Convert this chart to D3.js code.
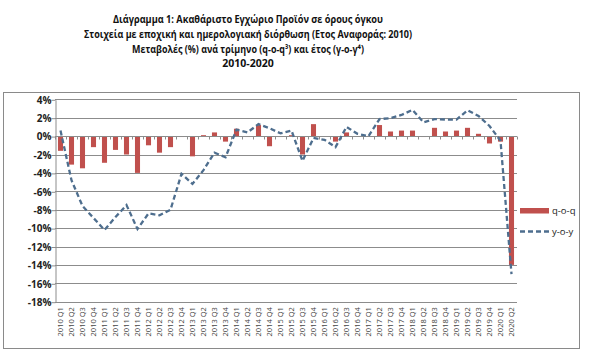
<!DOCTYPE html>
<html><head><meta charset="utf-8">
<script src="https://cdn.jsdelivr.net/npm/d3@7"></script>
<style>body{margin:0;background:#fff}svg{display:block}</style>
</head><body>
<svg id="c" width="595" height="358"></svg>
<script>
const categories = ["2010 Q1","2010 Q2","2010 Q3","2010 Q4","2011 Q1","2011 Q2","2011 Q3","2011 Q4","2012 Q1","2012 Q2","2012 Q3","2012 Q4","2013 Q1","2013 Q2","2013 Q3","2013 Q4","2014 Q1","2014 Q2","2014 Q3","2014 Q4","2015 Q1","2015 Q2","2015 Q3","2015 Q4","2016 Q1","2016 Q2","2016 Q3","2016 Q4","2017 Q1","2017 Q2","2017 Q3","2017 Q4","2018 Q1","2018 Q2","2018 Q3","2018 Q4","2019 Q1","2019 Q2","2019 Q3","2019 Q4","2020 Q1","2020 Q2"];
const qoq = [-1.6,-3.1,-3.5,-1.2,-2.9,-1.5,-2.0,-4.0,-1.0,-1.8,-1.2,-0.1,-2.2,0.1,0.4,-0.6,0.8,-0.1,1.2,-1.1,-0.1,0.1,-2.0,1.3,0.0,-0.6,0.4,0.0,0.0,1.2,0.5,0.6,0.6,-0.1,0.9,0.5,0.6,0.9,0.25,-0.8,-0.6,-14.0];
const yoy = [0.6,-4.8,-7.6,-8.9,-10.2,-8.8,-7.5,-10.1,-8.4,-8.6,-8.0,-4.1,-5.2,-3.7,-1.8,-2.3,0.7,0.4,1.3,0.85,0.3,0.6,-2.7,-0.2,-0.4,-1.2,1.0,0.25,0.0,1.85,1.95,2.3,2.85,1.5,1.85,1.8,1.8,2.8,2.2,1.1,-0.5,-15.0];
const yTicks = [4,2,0,-2,-4,-6,-8,-10,-12,-14,-16,-18];
const titleLines = ["Διάγραμμα 1: Ακαθάριστο Εγχώριο Προϊόν σε όρους όγκου","Στοιχεία με εποχική και ημερολογιακή διόρθωση (Ετος Αναφοράς: 2010)","Μεταβολές (%) ανά τρίμηνο (q-o-q³) και έτος (γ-o-γ⁴)","2010-2020"];
const seriesNames = ["q-o-q","y-o-y"];

const svg = d3.select("#c");
const font = "'Open Sans', 'Noto Sans', sans-serif";
const L = 55, R = 517, T = 99.3, B = 301.7;
const x = d3.scaleBand().domain(categories).range([L, R]);
const y = d3.scaleLinear().domain([-18, 4]).range([B, T]);

// outer frame
svg.append("rect").attr("x", 3.5).attr("y", 92.5).attr("width", 576).attr("height", 256)
  .attr("fill", "none").attr("stroke", "#8a8a8a").attr("stroke-width", 1);

// title
const tY = [18.5, 33.5, 48.5, 63];
const tW = [270, 328, 232, null];
svg.append("g").selectAll("text").data(titleLines).join("text")
  .attr("x", 248).attr("y", (d, i) => tY[i] + 4)
  .attr("text-anchor", "middle").attr("font-family", font).attr("font-weight", "bold")
  .attr("font-size", 10.5).attr("fill", "#111")
  .attr("textLength", (d, i) => tW[i]).attr("lengthAdjust", "spacingAndGlyphs")
  .text(d => d);

// gridlines
svg.append("g").selectAll("line").data(yTicks).join("line")
  .attr("x1", L).attr("x2", R).attr("y1", d => Math.round(y(d)) + 0.5).attr("y2", d => Math.round(y(d)) + 0.5)
  .attr("stroke", "#8c8c8c").attr("stroke-width", 1);

// y axis
const yAxis = d3.axisLeft(y).tickValues(yTicks).tickFormat(d => d + "%").tickSize(4).tickSizeOuter(0);
const gy = svg.append("g").attr("transform", `translate(${L + 0.5},0.5)`).call(yAxis);
gy.select(".domain").attr("stroke", "#8c8c8c");
gy.selectAll(".tick line").attr("stroke", "#8c8c8c");
gy.selectAll(".tick text").attr("font-family", font).attr("font-size", 10).attr("font-weight", "bold")
  .attr("fill", "#222").attr("x", -4);

// bars
const bw = x.bandwidth() * 0.46;
svg.append("g").selectAll("rect").data(qoq).join("rect")
  .attr("x", (d, i) => x(categories[i]) + (x.bandwidth() - bw) / 2)
  .attr("y", d => y(Math.max(0, d)))
  .attr("width", bw)
  .attr("height", d => Math.abs(y(d) - y(0)))
  .attr("fill", "#c0504d");

// zero axis with ticks
const z = Math.round(y(0)) + 0.5;
svg.append("line").attr("x1", L).attr("x2", R).attr("y1", z).attr("y2", z).attr("stroke", "#8c8c8c");
svg.append("g").selectAll("line").data(categories.concat(["end"])).join("line")
  .attr("x1", (d, i) => Math.round(L + i * x.bandwidth()) + 0.5)
  .attr("x2", (d, i) => Math.round(L + i * x.bandwidth()) + 0.5)
  .attr("y1", z).attr("y2", z + 3).attr("stroke", "#8c8c8c");

// yoy line
const line = d3.line().x((d, i) => x(categories[i]) + x.bandwidth() / 2).y(d => y(d));
svg.append("path").datum(yoy).attr("d", line).attr("fill", "none")
  .attr("stroke", "#4e6e8e").attr("stroke-width", 2.3).attr("stroke-dasharray", "5,3");

// x labels
svg.append("g").selectAll("text").data(categories).join("text")
  .attr("transform", d => `translate(${x(d) + x.bandwidth() / 2 + 2.5},${B + 5.5}) rotate(-90)`)
  .attr("text-anchor", "end").attr("font-family", font).attr("font-size", 7.5)
  .attr("fill", "#444").text(d => d);

// legend
const lg = svg.append("g");
lg.append("rect").attr("x", 520).attr("y", 208).attr("width", 29).attr("height", 5.5).attr("fill", "#c0504d");
lg.append("line").attr("x1", 520).attr("x2", 550).attr("y1", 231.5).attr("y2", 231.5)
  .attr("stroke", "#4e6e8e").attr("stroke-width", 2.3).attr("stroke-dasharray", "5,3");
lg.selectAll("text").data(seriesNames).join("text")
  .attr("x", 552).attr("y", (d, i) => i === 0 ? 214 : 235)
  .attr("font-family", font).attr("font-size", 9.5).attr("fill", "#222").text(d => d);
</script>
</body></html>
